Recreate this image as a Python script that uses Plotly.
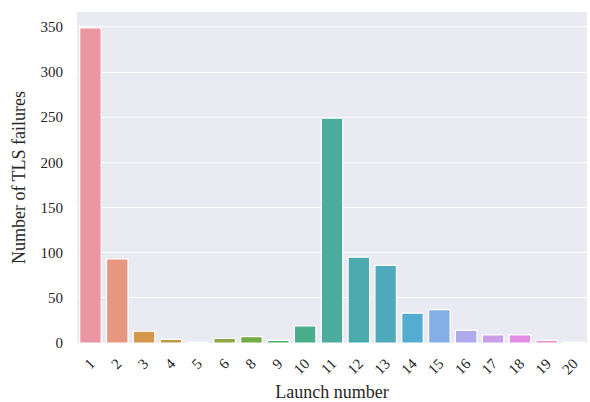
import math
import colorsys
import plotly.graph_objects as go

# ---- data ----
launch_labels = ["1", "2", "3", "4", "5", "6", "8", "9", "10", "11",
                 "12", "13", "14", "15", "16", "17", "18", "19", "20"]
tls_failures = [349, 93, 13, 4, 1, 5, 7, 3, 19, 249,
                95, 86, 33, 37, 14, 9, 9, 3, 1]
y_ticks = [0, 50, 100, 150, 200, 250, 300, 350]

# ---- seaborn-like husl palette (style only) ----
_M = [[3.2406, -1.5372, -0.4986], [-0.9689, 1.8758, 0.0415], [0.0557, -0.2040, 1.0570]]
_refU, _refV, _kappa, _eps = 0.19784, 0.46834, 903.2963, 0.0088565


def _max_chroma(L, H):
    hrad = math.radians(H)
    sinH, cosH = math.sin(hrad), math.cos(hrad)
    sub1 = (L + 16) ** 3 / 1560896.0
    sub2 = sub1 if sub1 > _eps else L / _kappa
    result = float("inf")
    for m1, m2, m3 in _M:
        top = (0.99915 * m1 + 1.05122 * m2 + 1.14460 * m3) * sub2
        rb = 0.86330 * m3 - 0.17266 * m2
        lb = 0.12949 * m3 - 0.38848 * m1
        bottom = (rb * sinH + lb * cosH) * sub2
        for t in (0.0, 1.0):
            C = L * (top - 1.05122 * t) / (bottom + 0.17266 * sinH * t)
            if 0 < C < result:
                result = C
    return result


def _husl_to_rgb(h, s, l):
    C = _max_chroma(l, h) / 100.0 * s
    U, V = C * math.cos(math.radians(h)), C * math.sin(math.radians(h))
    t = (l + 16) / 116.0
    Y = t ** 3 if t ** 3 > _eps else (116 * t - 16) / _kappa
    vu = U / (13 * l) + _refU
    vv = V / (13 * l) + _refV
    X = -(9 * Y * vu) / ((vu - 4) * vv - vu * vv)
    Z = (9 * Y - 15 * vv * Y - vv * X) / (3 * vv)
    out = []
    for row in _M:
        c = row[0] * X + row[1] * Y + row[2] * Z
        c = 12.92 * c if c <= 0.0031308 else 1.055 * c ** (1 / 2.4) - 0.055
        out.append(min(max(c, 0.0), 1.0))
    return out


def _palette(n, h=0.01, s=0.9, l=0.7, sat=0.75):
    cols = []
    for i in range(n):
        hue = ((i / n) + h) % 1 * 359
        r, g, b = _husl_to_rgb(hue, s * 99, l * 99)
        hh, ll, ss = colorsys.rgb_to_hls(r, g, b)
        r, g, b = colorsys.hls_to_rgb(hh, ll, ss * sat)
        cols.append("rgb(%d,%d,%d)" % (round(r * 255), round(g * 255), round(b * 255)))
    return cols


colors = _palette(len(launch_labels))

FONT = "Liberation Serif"

fig = go.Figure(
    go.Bar(
        x=launch_labels,
        y=tls_failures,
        marker=dict(color=colors, line=dict(color="white", width=1.2)),
        width=0.8,
    )
)

fig.update_layout(
    width=590,
    height=402,
    margin=dict(l=77, r=3, t=12, b=59),
    paper_bgcolor="white",
    plot_bgcolor="#eaeaf2",
    font=dict(family=FONT, size=15, color="#262626"),
    showlegend=False,
    bargap=0.2,
)
fig.update_xaxes(
    type="category",
    range=[-0.5, len(launch_labels) - 0.5],
    tickangle=-45,
    showgrid=False,
    zeroline=False,
    ticks="",
    tickfont=dict(size=15),
    ticklabelstandoff=8,
    title=dict(text="Launch number", font=dict(size=18), standoff=8),
    automargin=False,
)
fig.update_yaxes(
    range=[0, 366.5],
    tickvals=y_ticks,
    showgrid=True,
    gridcolor="white",
    gridwidth=1.4,
    zeroline=False,
    ticks="",
    tickfont=dict(size=15),
    ticklabelstandoff=13,
    title=dict(text="Number of TLS failures", font=dict(size=18), standoff=10),
    automargin=False,
)

fig.write_html(
    "out.html",
    config={"displayModeBar": False},
    post_script="document.body.style.margin='0';",
)
